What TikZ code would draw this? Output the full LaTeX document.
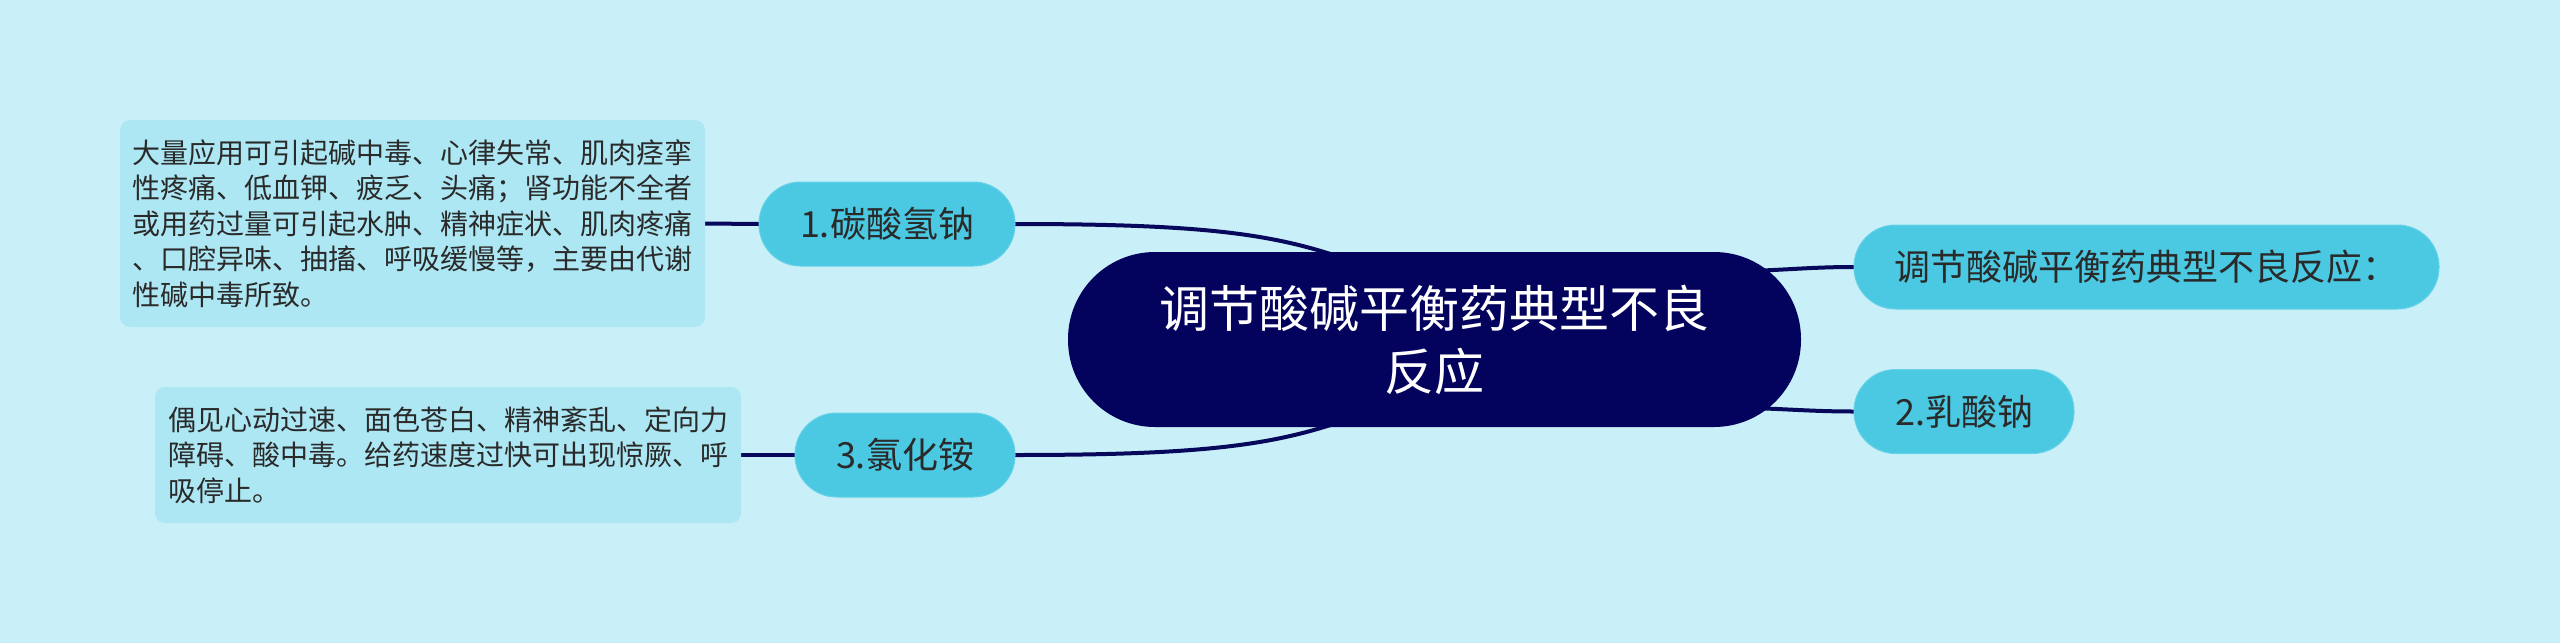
\documentclass[tikz,border=0pt]{standalone}
\usepackage{fontspec}
\setmainfont{Noto Sans CJK SC}
\usetikzlibrary{calc}
\pgfdeclarelayer{back}
\pgfdeclarelayer{lines}
\pgfsetlayers{back,lines,main}
\definecolor{bgc}{HTML}{C9F0F8}
\definecolor{boxc}{HTML}{ADE7F3}
\definecolor{branchc}{HTML}{4BC9E3}
\definecolor{rootc}{HTML}{03035E}
\definecolor{linec}{HTML}{07075C}
\definecolor{txtc}{HTML}{2A2A2A}
\tikzset{
  rootnode/.style={fill=rootc, text=white, rounded corners=87pt, minimum width=733pt, minimum height=175pt, inner sep=0pt, align=center, font=\fontsize{50pt}{63pt}\selectfont},
  branchnode/.style={fill=branchc, draw=branchc!85!white, line width=1pt, text=txtc, rounded corners=41.5pt, minimum height=84pt, inner sep=0pt, font=\fontsize{36pt}{44pt}\selectfont},
  notebox/.style={fill=boxc, text=txtc, rounded corners=10pt, inner sep=0pt, align=left, font=\fontsize{28pt}{35.5pt}\selectfont},
  conn/.style={draw=linec, line width=4pt, line cap=round}
}
\begin{document}
\begin{tikzpicture}[x=1pt,y=-1pt]
\begin{pgfonlayer}{back}
\fill[bgc] (0,0) rectangle (2560,643);
\end{pgfonlayer}
\useasboundingbox (0,0) rectangle (2560,643);

\node[rootnode] (c) at (1434.5,339.5) {调节酸碱平衡药典型不良\\反应};
\node[branchnode, minimum width=256pt] (n1) at (887,224) {1.碳酸氢钠};
\node[branchnode, minimum width=220pt] (n3) at (905,455) {3.氯化铵};
\node[branchnode, minimum width=585pt] (r1) at (2146.5,267) {调节酸碱平衡药典型不良反应：};
\node[branchnode, minimum width=220pt] (r2) at (1964,411.5) {2.乳酸钠};
\node[notebox, minimum width=585pt, minimum height=207pt] (b1) at (412.5,223.5) {大量应用可引起碱中毒、心律失常、肌肉痉挛\\性疼痛、低血钾、疲乏、头痛；肾功能不全者\\或用药过量可引起水肿、精神症状、肌肉疼痛\\、口腔异味、抽搐、呼吸缓慢等，主要由代谢\\性碱中毒所致。};
\node[notebox, minimum width=586pt, minimum height=136pt] (b2) at (448,455) {偶见心动过速、面色苍白、精神紊乱、定向力\\障碍、酸中毒。给药速度过快可出现惊厥、呼\\吸停止。};

\begin{pgfonlayer}{lines}
\draw[conn] (n1.east) .. controls +(235,0) and ($(c.center)+(-135,-100)$) .. ($(c.center)+(-35,-60)$);
\draw[conn] (n3.east) .. controls +(235,0) and ($(c.center)+(-135,100)$) .. ($(c.center)+(-35,60)$);
\draw[conn] (n1.west) -- (b1.east);
\draw[conn] (n3.west) -- (b2.east);
\draw[conn] ($(c.center)+(280,-68)$) .. controls +(60,0) and +(-50,0) .. (r1.west);
\draw[conn] ($(c.center)+(280,68)$) .. controls +(60,0) and +(-50,0) .. (r2.west);
\end{pgfonlayer}
\end{tikzpicture}
\end{document}
